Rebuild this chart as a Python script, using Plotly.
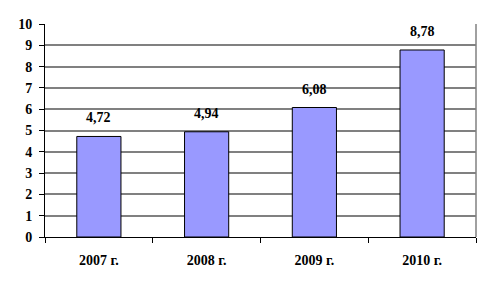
import plotly.graph_objects as go

categories = ["2007 г.", "2008 г.", "2009 г.", "2010 г."]
values = [4.72, 4.94, 6.08, 8.78]
y_ticks = list(range(0, 11))

FONT = dict(family="Liberation Serif, Times New Roman, serif", size=14, color="black", weight="bold")

fig = go.Figure()
fig.add_trace(go.Bar(
    x=categories, y=values,
    marker=dict(color="#9999FF", line=dict(color="black", width=1)),
    width=0.41,
    hoverinfo="skip",
))

for c, v in zip(categories, values):
    fig.add_annotation(
        x=c, y=v, text=f"{v:.2f}".replace(".", ","),
        showarrow=False, yanchor="bottom", yshift=9,
        font=FONT,
    )

fig.add_shape(type="line", xref="paper", yref="y", x0=1, x1=1, y0=0, y1=10,
              line=dict(color="#808080", width=1.5))

fig.update_layout(
    width=491, height=291,
    margin=dict(l=45, r=15, t=24, b=54),
    paper_bgcolor="white", plot_bgcolor="white",
    showlegend=False,
    font=FONT,
    bargap=0.59,
)
fig.update_xaxes(
    type="category",
    showline=True, linecolor="black", linewidth=1,
    showgrid=False,
    ticks="outside", ticklen=5, tickcolor="black", tickson="boundaries",
    ticklabelstandoff=10,
    tickfont=FONT,
)
fig.update_yaxes(
    range=[0, 10], tickvals=y_ticks,
    showline=True, linecolor="black", linewidth=1,
    showgrid=True, gridcolor="#808080", gridwidth=2,
    ticks="outside", ticklen=5, tickcolor="black",
    ticklabelstandoff=4,
    zeroline=False,
    tickfont=FONT,
)

fig.write_html("out.html")
